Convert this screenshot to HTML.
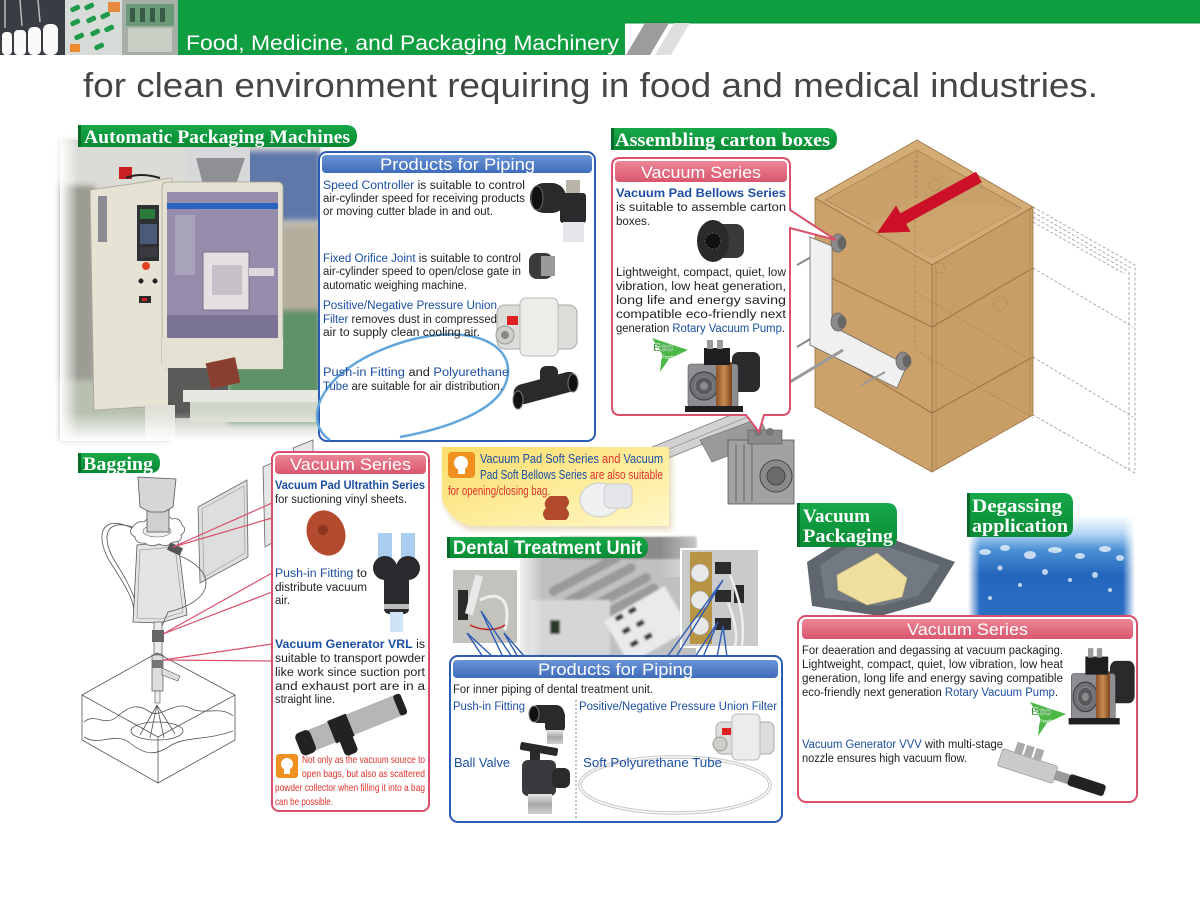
<!DOCTYPE html>
<html><head><meta charset="utf-8">
<style>
html,body{margin:0;padding:0;background:#fff;width:1200px;height:900px;overflow:hidden}
svg{display:block}
.t{font-family:"Liberation Sans",Arial,sans-serif;font-size:11.5px;fill:#222}
.bl{fill:#1b4ea3}
.bd{font-weight:bold}
.lb{font-family:"Liberation Serif",serif;font-weight:bold;fill:#fff;font-size:19px}
.hd{font-family:"Liberation Sans",Arial,sans-serif;font-size:17px;fill:#fff}
.hw{font-family:"Liberation Sans Narrow","Liberation Sans",sans-serif;font-size:12.5px}
.rd{fill:#e0302a}
.ln{fill:none;stroke:#555;stroke-width:0.8}
</style></head><body>
<svg width="1200" height="900" viewBox="0 0 1200 900" xmlns="http://www.w3.org/2000/svg">
<defs>
 <filter id="b3" x="-10%" y="-10%" width="120%" height="120%"><feGaussianBlur stdDeviation="3"/></filter>
 <filter id="b1"><feGaussianBlur stdDeviation="1"/></filter>
 <linearGradient id="hB" x1="0" y1="0" x2="0" y2="1"><stop offset="0" stop-color="#6a94d6"/><stop offset="1" stop-color="#3f6cbc"/></linearGradient>
 <linearGradient id="hR" x1="0" y1="0" x2="0" y2="1"><stop offset="0" stop-color="#ec8696"/><stop offset="1" stop-color="#d9566e"/></linearGradient>
 <linearGradient id="gL" x1="0" y1="0" x2="0" y2="1"><stop offset="0" stop-color="#16a848"/><stop offset="1" stop-color="#078a34"/></linearGradient>
 <linearGradient id="yel" x1="0" y1="0" x2="1" y2="1"><stop offset="0" stop-color="#fcdc6a"/><stop offset="0.6" stop-color="#fdeea0"/><stop offset="1" stop-color="#fff6c8"/></linearGradient>
 <linearGradient id="wat" x1="0" y1="0" x2="0" y2="1"><stop offset="0" stop-color="#ffffff"/><stop offset="0.18" stop-color="#b6d8f4"/><stop offset="0.35" stop-color="#4a90d6"/><stop offset="0.6" stop-color="#2466bc"/><stop offset="1" stop-color="#2c6ec4"/></linearGradient>
 <linearGradient id="fR" x1="0" y1="0" x2="1" y2="0"><stop offset="0" stop-color="#fff" stop-opacity="1"/><stop offset="1" stop-color="#fff" stop-opacity="0"/></linearGradient>
 <linearGradient id="fLf" x1="1" y1="0" x2="0" y2="0"><stop offset="0" stop-color="#fff" stop-opacity="1"/><stop offset="1" stop-color="#fff" stop-opacity="0"/></linearGradient>
 <linearGradient id="fD" x1="0" y1="0" x2="0" y2="1"><stop offset="0" stop-color="#fff" stop-opacity="0"/><stop offset="1" stop-color="#fff" stop-opacity="1"/></linearGradient>
 <linearGradient id="cop" x1="0" y1="0" x2="1" y2="0"><stop offset="0" stop-color="#8a5028"/><stop offset="0.5" stop-color="#c88a50"/><stop offset="1" stop-color="#7a4420"/></linearGradient>
 <linearGradient id="met" x1="0" y1="0" x2="0" y2="1"><stop offset="0" stop-color="#e8e8e8"/><stop offset="0.5" stop-color="#a8a8a8"/><stop offset="1" stop-color="#d0d0d0"/></linearGradient>
 <g id="pump">
  <rect x="50" y="14" width="28" height="40" rx="7" fill="#2a2a2c"/>
  <rect x="6" y="26" width="50" height="44" rx="3" fill="#8c8e92" stroke="#555" stroke-width="0.6"/>
  <circle cx="22" cy="48" r="14" fill="#6e7074" stroke="#3a3a3a"/>
  <circle cx="22" cy="48" r="9" fill="#58595c" stroke="#888"/>
  <circle cx="22" cy="48" r="4" fill="#8a8a8a"/>
  <rect x="34" y="24" width="16" height="48" fill="url(#cop)"/>
  <rect x="22" y="10" width="26" height="17" fill="#1e1e20"/>
  <rect x="25" y="2" width="6" height="9" fill="#9a9a9a"/><rect x="35" y="2" width="6" height="9" fill="#9a9a9a"/>
  <rect x="3" y="68" width="58" height="6" fill="#1e1e20"/>
 </g>
 <g id="eco">
  <polygon points="0,2 36,14 17,23 8,36 10,18" fill="#4cb848"/>
  <text x="1" y="15" font-family="Liberation Sans,sans-serif" font-size="11" font-weight="bold" fill="#2c8a2c" stroke="#fff" stroke-width="0.4">Eco</text>
  <text x="9" y="23" font-family="Liberation Sans,sans-serif" font-size="5.5" fill="#fff">Product</text>
 </g>
</defs>

<!-- ===== TOP BANNER ===== -->
<rect x="178" y="0" width="1022" height="23" fill="#0e9e40"/>
<rect x="178" y="22" width="1022" height="1.5" fill="#079236"/>
<rect x="178" y="0" width="447" height="55" fill="#0e9e40"/>
<polygon points="626,55 645,23 669,23 650,55" fill="#9c9c9c"/>
<polygon points="655,55 674,23 690,23 671,55" fill="#dedede"/>
<text x="186" y="50" font-family="Liberation Sans,sans-serif" font-size="21" fill="#fff" textLength="433" lengthAdjust="spacingAndGlyphs">Food, Medicine, and Packaging Machinery</text>
<rect x="0" y="0" width="65" height="55" fill="#3a3c44"/>
<g fill="#fafafa"><rect x="2" y="32" width="10" height="23" rx="4"/><rect x="14" y="30" width="12" height="25" rx="4"/><rect x="28" y="27" width="13" height="28" rx="5"/><rect x="43" y="24" width="15" height="31" rx="6"/></g>
<g stroke="#bbb" stroke-width="1.5"><line x1="5" y1="0" x2="5" y2="28"/><line x1="20" y1="0" x2="22" y2="26"/><line x1="38" y1="0" x2="40" y2="22"/></g>
<rect x="65" y="0" width="57" height="55" fill="#d8dcd8"/>
<g fill="#1f9a4a"><rect x="70" y="6" width="10" height="5" rx="2" transform="rotate(-25 75 8)"/><rect x="84" y="4" width="10" height="5" rx="2" transform="rotate(-25 89 6)"/><rect x="70" y="20" width="10" height="5" rx="2" transform="rotate(-25 75 22)"/><rect x="86" y="17" width="10" height="5" rx="2" transform="rotate(-25 91 19)"/><rect x="100" y="13" width="10" height="5" rx="2" transform="rotate(-25 105 15)"/><rect x="74" y="34" width="10" height="5" rx="2" transform="rotate(-25 79 36)"/><rect x="90" y="30" width="10" height="5" rx="2" transform="rotate(-25 95 32)"/><rect x="104" y="26" width="10" height="5" rx="2" transform="rotate(-25 109 28)"/><rect x="94" y="44" width="10" height="5" rx="2" transform="rotate(-25 99 46)"/></g>
<rect x="108" y="2" width="12" height="10" fill="#e88a40"/><rect x="70" y="44" width="10" height="8" fill="#f08a30"/>
<rect x="122" y="0" width="56" height="55" fill="#a6b0a8"/>
<rect x="126" y="4" width="48" height="22" fill="#6a9a78"/>
<rect x="128" y="28" width="44" height="24" fill="#c8cec4"/>
<g fill="#3a5a48"><rect x="130" y="8" width="5" height="14"/><rect x="140" y="8" width="5" height="14"/><rect x="150" y="8" width="5" height="14"/><rect x="160" y="8" width="5" height="14"/></g>

<text x="83" y="97" font-family="Liberation Sans,sans-serif" font-size="34" fill="#454545" textLength="1015" lengthAdjust="spacingAndGlyphs">for clean environment requiring in food and medical industries.</text>

<!-- ===== AUTOMATIC PACKAGING MACHINES PHOTO ===== -->
<g>
 <rect x="60" y="140" width="260" height="300" fill="#c4c4bc"/>
 <g filter="url(#b3)">
  <rect x="60" y="140" width="260" height="50" fill="#dcdcd6"/>
  <rect x="242" y="150" width="78" height="70" fill="#5f78aa"/>
  <rect x="282" y="225" width="38" height="90" fill="#b6ae9c"/>
  <rect x="228" y="310" width="92" height="115" fill="#5f9268"/>
  <rect x="60" y="185" width="35" height="240" fill="#9c9c94"/>
  <rect x="60" y="380" width="110" height="60" fill="#b8c0b0"/>
 </g>
 <polygon points="90,190 172,178 174,405 94,410" fill="#e6e3d5" stroke="#aaa596" stroke-width="0.8"/>
 <rect x="98" y="196" width="9" height="46" fill="#8a8a92"/>
 <rect x="137" y="205" width="22" height="56" fill="#2e3034"/>
 <rect x="140" y="209" width="15" height="10" fill="#2a7a3a"/>
 <rect x="140" y="224" width="17" height="20" fill="#4a5a78"/>
 <rect x="140" y="247" width="17" height="10" fill="#3a3a40"/>
 <circle cx="146" cy="266" r="4" fill="#e04020"/>
 <circle cx="141" cy="281" r="2.5" fill="#222"/><circle cx="155" cy="281" r="2.5" fill="#222"/>
 <rect x="139" y="296" width="12" height="7" fill="#2a2a2a"/><rect x="142" y="298" width="5" height="3" fill="#d02020"/>
 <rect x="119" y="167" width="13" height="12" fill="#c82020"/>
 <path d="M126,178 Q140,172 160,178" stroke="#222" stroke-width="2" fill="none"/>
 <rect x="186" y="140" width="64" height="45" fill="#d6d8da"/>
 <polygon points="196,158 245,158 232,196 206,196" fill="#8e9094"/>
 <rect x="162" y="182" width="121" height="187" rx="5" fill="#e4e1d2" stroke="#a8a494" stroke-width="0.8"/>
 <rect x="167" y="192" width="111" height="146" fill="#968dad"/>
 <rect x="167" y="203" width="111" height="6" fill="#2a62c2"/>
 <rect x="175" y="215" width="20" height="60" fill="#a8a4bc"/>
 <rect x="203" y="252" width="46" height="58" fill="#e6e0e2" stroke="#7a7088"/>
 <rect x="212" y="265" width="30" height="30" fill="#c8c0c8"/>
 <rect x="249" y="268" width="25" height="8" fill="#dcd8dc"/>
 <rect x="167" y="315" width="111" height="23" fill="#7c7494"/>
 <rect x="162" y="338" width="121" height="31" fill="#e4e1d2"/>
 <rect x="168" y="368" width="60" height="50" fill="#5a5a58"/>
 <rect x="208" y="360" width="30" height="26" fill="#8a4030" transform="rotate(-12 223 373)"/>
 <rect x="183" y="390" width="137" height="12" fill="#e8e8e2"/>
 <rect x="190" y="402" width="130" height="20" fill="#d0d6c8"/>
 <rect x="145" y="405" width="30" height="35" fill="#e0e0d8"/>
 <rect x="60" y="140" width="18" height="300" fill="url(#fR)"/>
 <rect x="60" y="412" width="260" height="29" fill="url(#fD)"/>
</g>
<path d="M78,125 H346 Q357,125 357,136 Q357,147 346,147 H78 Z" fill="url(#gL)"/>
<rect x="78" y="125" width="3" height="22" fill="#066a2a"/>
<text class="lb" x="84" y="143" textLength="266" lengthAdjust="spacingAndGlyphs">Automatic Packaging Machines</text>

<!-- ===== PRODUCTS FOR PIPING 1 ===== -->
<rect x="319" y="152" width="276" height="289" rx="8" fill="#fff" stroke="#2c5cb4" stroke-width="2"/>
<rect x="322" y="155" width="270" height="18" rx="4" fill="url(#hB)"/>
<text class="hd" x="380" y="170" textLength="155" lengthAdjust="spacingAndGlyphs">Products for Piping</text>
<path d="M330,440 C300,420 320,365 410,340 C480,322 520,350 505,385 C495,410 450,428 400,437" fill="none" stroke="#62a6dc" stroke-width="2.5"/>
<g class="t">
<text x="323" y="189" textLength="202" lengthAdjust="spacingAndGlyphs"><tspan class="bl">Speed Controller</tspan> is suitable to control</text>
<text x="323" y="202" textLength="202" lengthAdjust="spacingAndGlyphs">air-cylinder speed for receiving products</text>
<text x="323" y="215" textLength="170" lengthAdjust="spacingAndGlyphs">or moving cutter blade in and out.</text>
<text x="323" y="262" textLength="198" lengthAdjust="spacingAndGlyphs"><tspan class="bl">Fixed Orifice Joint</tspan> is suitable to control</text>
<text x="323" y="275" textLength="198" lengthAdjust="spacingAndGlyphs">air-cylinder speed to open/close gate in</text>
<text x="323" y="289" textLength="144" lengthAdjust="spacingAndGlyphs">automatic weighing machine.</text>
<text x="323" y="309" textLength="174" lengthAdjust="spacingAndGlyphs" class="bl">Positive/Negative Pressure Union</text>
<text x="323" y="323" textLength="174" lengthAdjust="spacingAndGlyphs"><tspan class="bl">Filter</tspan> removes dust in compressed</text>
<text x="323" y="336" textLength="157" lengthAdjust="spacingAndGlyphs">air to supply clean cooling air.</text>
<text x="323" y="376" textLength="186" lengthAdjust="spacingAndGlyphs"><tspan class="bl">Push-in Fitting</tspan> and <tspan class="bl">Polyurethane</tspan></text>
<text x="323" y="390" textLength="180" lengthAdjust="spacingAndGlyphs"><tspan class="bl">Tube</tspan> are suitable for air distribution.</text>
</g>
<rect x="530" y="183" width="36" height="30" rx="14" fill="#2a2a2c"/>
<ellipse cx="537" cy="198" rx="6" ry="12" fill="#111" stroke="#666"/>
<rect x="566" y="180" width="14" height="14" fill="#b8b4a8"/>
<rect x="560" y="193" width="26" height="30" rx="3" fill="#2a2a2c"/>
<rect x="563" y="222" width="21" height="20" fill="#e6e6ea"/>
<rect x="529" y="253" width="24" height="26" rx="8" fill="#3a3a3c"/><rect x="541" y="256" width="14" height="20" fill="#9a9a9a"/>
<rect x="497" y="305" width="80" height="44" rx="8" fill="#dcdcd8" stroke="#aaa"/>
<rect x="520" y="298" width="38" height="58" rx="6" fill="#ecece8" stroke="#bbb"/>
<circle cx="505" cy="335" r="9" fill="#cfcfca" stroke="#999"/><circle cx="505" cy="335" r="4" fill="#888"/>
<rect x="507" y="316" width="11" height="9" fill="#e02020"/>
<rect x="513" y="378" width="66" height="20" rx="9" fill="#2a2a2c" transform="rotate(-15 546 388)"/>
<rect x="540" y="366" width="18" height="26" rx="6" fill="#2a2a2c"/>
<ellipse cx="518" cy="400" rx="5" ry="9" fill="#111" stroke="#777"/>
<ellipse cx="573" cy="383" rx="5" ry="9" fill="#111" stroke="#777"/>

<!-- ===== CARDBOARD BOX ===== -->
<g stroke-linejoin="round">
 <g fill="none" stroke="#999" stroke-width="0.8" stroke-dasharray="3,2">
  <polyline points="1033,207 1135,265 1135,473 1033,415"/>
  <polyline points="1033,212 1131,268"/><polyline points="1033,217 1128,271"/><polyline points="1033,222 1125,274"/>
  <line x1="1033" y1="268" x2="1133" y2="327"/><line x1="1033" y1="357" x2="1133" y2="417"/>
  <line x1="1129" y1="272" x2="1129" y2="470"/>
 </g>
 <polygon points="815,198 917,140 1033,207 932,265" fill="#d4ac76" stroke="#9a7444" stroke-width="0.8"/>
 <polygon points="825,200 917,150 1021,208 932,258" fill="#c8a06a" stroke="#a07a48" stroke-width="0.6"/>
 <polygon points="855,232 917,198 1021,208 932,258" fill="#cba46e"/>
 <line x1="917" y1="150" x2="917" y2="198" stroke="#a07a48" stroke-width="0.6" stroke-dasharray="3,2"/>
 <polygon points="815,198 932,265 932,472 815,407" fill="#cda26a" stroke="#9a7444" stroke-width="0.8"/>
 <polygon points="932,265 1033,207 1033,415 932,472" fill="#c99e66" stroke="#9a7444" stroke-width="0.8"/>
 <line x1="815" y1="270" x2="932" y2="327" stroke="#8a6a40" stroke-width="0.8"/>
 <line x1="815" y1="343" x2="932" y2="413" stroke="#8a6a40" stroke-width="0.8"/>
 <line x1="932" y1="327" x2="1033" y2="268" stroke="#8a6a40" stroke-width="0.8"/>
 <line x1="932" y1="413" x2="1033" y2="357" stroke="#8a6a40" stroke-width="0.8"/>
 <line x1="936" y1="268" x2="936" y2="470" stroke="#a88050" stroke-width="0.6"/>
 <line x1="1030" y1="209" x2="1030" y2="413" stroke="#a88050" stroke-width="0.6"/>
 <g fill="none" stroke="#a88050" stroke-width="0.6" stroke-dasharray="3,2">
  <line x1="915" y1="160" x2="915" y2="350"/><line x1="915" y1="350" x2="1033" y2="418"/><line x1="915" y1="292" x2="1030" y2="360"/>
  <circle cx="935" cy="185" r="6"/><circle cx="940" cy="268" r="5"/><circle cx="1000" cy="303" r="7"/>
 </g>
</g>
<polygon points="877,233 910.5,231.8 906.2,223.9 981.9,182.3 976.1,171.7 900.4,213.3 896.1,205.4" fill="#cc1028"/>
<g stroke="#666" stroke-width="0.8">
 <line x1="797" y1="265" x2="820" y2="252" stroke="#888" stroke-width="2"/>
 <line x1="797" y1="347" x2="820" y2="333" stroke="#888" stroke-width="2"/>
 <polygon points="810,237 832,246 832,326 907,365 897,388 810,345" fill="#f0f0f0"/>
 <line x1="780" y1="388" x2="843" y2="350" stroke="#999" stroke-width="3"/>
 <line x1="862" y1="385" x2="885" y2="372" stroke="#999" stroke-width="2"/>
 <ellipse cx="838" cy="243" rx="7" ry="9" fill="#8a8a8a"/><ellipse cx="842" cy="243" rx="4" ry="6" fill="#666"/>
 <ellipse cx="838" cy="322" rx="7" ry="9" fill="#8a8a8a"/><ellipse cx="842" cy="322" rx="4" ry="6" fill="#666"/>
 <ellipse cx="903" cy="361" rx="7" ry="9" fill="#8a8a8a"/><ellipse cx="907" cy="361" rx="4" ry="6" fill="#666"/>
</g>
<polygon points="640,452 748,408 752,424 644,468" fill="#d2d2d2" stroke="#777" stroke-width="0.8"/>
<line x1="642" y1="460" x2="750" y2="416" stroke="#999" stroke-width="0.8"/>
<polygon points="700,440 760,418 770,440 712,462" fill="#9a9a9a" stroke="#666" stroke-width="0.6"/>
<g transform="translate(728,430)">
 <rect x="0" y="10" width="66" height="64" fill="#a2a2a4" stroke="#555" stroke-width="0.8"/>
 <rect x="20" y="0" width="34" height="14" fill="#8a8a8c" stroke="#555" stroke-width="0.6"/>
 <circle cx="30" cy="2" r="4" fill="#777"/><circle cx="42" cy="2" r="4" fill="#777"/>
 <circle cx="48" cy="46" r="16" fill="#8a8a8c" stroke="#444"/><circle cx="48" cy="46" r="9" fill="#6a6a6c" stroke="#444"/>
 <line x1="8" y1="14" x2="8" y2="72" stroke="#666"/><line x1="16" y1="14" x2="16" y2="72" stroke="#666"/><line x1="24" y1="14" x2="24" y2="72" stroke="#666"/>
</g>

<path d="M611,128 H826 Q837,128 837,139 Q837,150 826,150 H611 Z" fill="url(#gL)"/>
<rect x="611" y="128" width="3" height="22" fill="#066a2a"/>
<text class="lb" x="615" y="146" textLength="215" lengthAdjust="spacingAndGlyphs">Assembling carton boxes</text>

<!-- ===== VACUUM SERIES (carton) ===== -->
<path d="M620,158 H782 Q790,158 790,166 V210 L836,240 L790,228 V407 Q790,415 782,415 H764 L759,432 L746,415 H620 Q612,415 612,407 V166 Q612,158 620,158 Z" fill="#fff" stroke="#d9506c" stroke-width="2"/>
<rect x="615" y="161" width="172" height="21" rx="4" fill="url(#hR)"/>
<text class="hd" x="641" y="178" textLength="120" lengthAdjust="spacingAndGlyphs">Vacuum Series</text>
<g class="t">
<text x="616" y="197" class="bl bd" textLength="170" lengthAdjust="spacingAndGlyphs">Vacuum Pad Bellows Series</text>
<text x="616" y="211" textLength="170" lengthAdjust="spacingAndGlyphs">is suitable to assemble carton</text>
<text x="616" y="225" textLength="34" lengthAdjust="spacingAndGlyphs">boxes.</text>
<text x="616" y="276" textLength="170" lengthAdjust="spacingAndGlyphs">Lightweight, compact, quiet, low</text>
<text x="616" y="290" textLength="170" lengthAdjust="spacingAndGlyphs">vibration, low heat generation,</text>
<text x="616" y="304" textLength="170" lengthAdjust="spacingAndGlyphs">long life and energy saving</text>
<text x="616" y="318" textLength="170" lengthAdjust="spacingAndGlyphs">compatible eco-friendly next</text>
<text x="616" y="332" textLength="169" lengthAdjust="spacingAndGlyphs">generation <tspan class="bl">Rotary Vacuum Pump</tspan>.</text>
</g>
<rect x="712" y="224" width="32" height="34" rx="8" fill="#3a3a3c"/>
<ellipse cx="713" cy="241" rx="16" ry="21" fill="#2a2a2c"/>
<circle cx="713" cy="241" r="8" fill="#111" stroke="#555" stroke-dasharray="2,2"/>
<use href="#eco" transform="translate(652,336)"/>
<use href="#pump" transform="translate(682,338)"/>

<!-- ===== BAGGING ===== -->
<path d="M78,453 H150 Q160,453 160,463 Q160,473 150,473 H78 Z" fill="url(#gL)"/>
<rect x="78" y="453" width="3" height="20" fill="#066a2a"/>
<text class="lb" x="83" y="470" textLength="70" lengthAdjust="spacingAndGlyphs">Bagging</text>
<polygon points="293,448 313,440 313,452 295,458" fill="#e6e6e6" stroke="#666" stroke-width="0.8"/>
<polygon points="263,467 272,463 272,543 265,547" fill="#e6e6e6" stroke="#666" stroke-width="0.8"/>
<polygon points="198,507 247,480 248,557 200,583" fill="#dedede" stroke="#666" stroke-width="0.8"/>
<polygon points="202,509 244,486 245,553 204,577" fill="none" stroke="#999" stroke-width="0.6"/>
<path class="ln" d="M132,528 C98,512 95,540 112,565 C125,585 134,600 134,612"/>
<path class="ln" d="M135,528 C103,516 101,540 116,563 C128,582 137,600 137,612"/>
<polygon points="137,545 178,541 187,615 160,623 133,622" fill="#e4e4e4" stroke="#555" stroke-width="0.8"/>
<polygon points="140,550 175,547 183,612 161,619 137,618" fill="none" stroke="#888" stroke-width="0.6"/>
<path d="M132,528 q5,-8 12,-6 q6,-7 14,-3 q8,-6 14,0 q8,-2 10,6 q6,5 -1,10 q2,7 -8,7 q-6,6 -14,2 q-8,4 -14,-1 q-9,1 -10,-6 q-7,-4 -3,-9 Z" fill="#fff" stroke="#555" stroke-width="0.8"/>
<ellipse cx="157" cy="531" rx="14" ry="6" fill="#eee" stroke="#666" stroke-width="0.6"/>
<rect x="147" y="510" width="22" height="22" fill="#d0d0d0" stroke="#555" stroke-width="0.8"/>
<polygon points="138,477 176,479 173,507 164,512 150,512 140,507" fill="#d6d6d6" stroke="#555" stroke-width="0.8"/>
<path class="ln" d="M180,556 C215,570 218,600 168,612 L162,626" stroke-width="1.6"/>
<rect x="168" y="545" width="14" height="8" fill="#555" transform="rotate(25 175 549)"/>
<rect x="154" y="622" width="8" height="32" fill="#ececec" stroke="#555" stroke-width="0.7"/>
<rect x="152" y="630" width="12" height="12" fill="#666"/>
<rect x="152" y="655" width="11" height="36" fill="#ddd" stroke="#555" stroke-width="0.7"/>
<rect x="152" y="660" width="11" height="8" fill="#777"/>
<polygon points="162,668 180,676 178,681 162,675" fill="#ddd" stroke="#555" stroke-width="0.6"/>
<rect x="155" y="691" width="5" height="12" fill="#eee" stroke="#555" stroke-width="0.6"/>
<path class="ln" d="M82,695 L157,653 L235,695 L158,737 Z"/>
<path class="ln" d="M82,695 V740 L158,783 L235,740 V695 M158,737 V783"/>
<path class="ln" d="M84,722 C95,712 105,728 118,716 S140,705 150,712 S175,700 190,708 S220,705 233,716"/>
<path class="ln" d="M84,737 C100,747 115,731 130,743 S155,756 170,746 S205,741 233,731"/>
<path class="ln" d="M157,705 L140,735 M157,705 L150,738 M157,705 L164,738 M157,705 L175,734"/>
<ellipse class="ln" cx="157" cy="731" rx="26" ry="9"/>
<g stroke="#d9506c" stroke-width="1.2" fill="none">
<polyline points="272,503 173,547 272,518"/>
<polyline points="272,573 163,634 272,592"/>
<polyline points="272,644 163,660 272,661"/>
</g>
<rect x="272" y="452" width="157" height="359" rx="7" fill="#fff" stroke="#d9506c" stroke-width="2"/>
<rect x="275" y="455" width="151" height="19" rx="4" fill="url(#hR)"/>
<text class="hd" x="290" y="470" textLength="121" lengthAdjust="spacingAndGlyphs">Vacuum Series</text>
<g class="t">
<text x="275" y="489" class="bl bd" textLength="150" lengthAdjust="spacingAndGlyphs">Vacuum Pad Ultrathin Series</text>
<text x="275" y="503" textLength="132" lengthAdjust="spacingAndGlyphs">for suctioning vinyl sheets.</text>
<text x="275" y="577" textLength="92" lengthAdjust="spacingAndGlyphs"><tspan class="bl">Push-in Fitting</tspan> to</text>
<text x="275" y="591" textLength="92" lengthAdjust="spacingAndGlyphs">distribute vacuum</text>
<text x="275" y="604" textLength="15" lengthAdjust="spacingAndGlyphs">air.</text>
<text x="275" y="648" textLength="150" lengthAdjust="spacingAndGlyphs"><tspan class="bl bd">Vacuum Generator VRL</tspan> is</text>
<text x="275" y="662" textLength="150" lengthAdjust="spacingAndGlyphs">suitable to transport powder</text>
<text x="275" y="676" textLength="150" lengthAdjust="spacingAndGlyphs">like work since suction port</text>
<text x="275" y="690" textLength="150" lengthAdjust="spacingAndGlyphs">and exhaust port are in a</text>
<text x="275" y="703" textLength="60" lengthAdjust="spacingAndGlyphs">straight line.</text>
</g>
<ellipse cx="326" cy="533" rx="19" ry="23" fill="#b44a2e" transform="rotate(-20 326 533)"/>
<circle cx="323" cy="530" r="5" fill="#8a3420"/>
<rect x="378" y="533" width="14" height="30" fill="#a8cdee"/><rect x="401" y="533" width="14" height="30" fill="#a8cdee"/>
<circle cx="385" cy="568" r="12" fill="#2a2a2e"/><circle cx="408" cy="568" r="12" fill="#2a2a2e"/>
<rect x="384" y="570" width="25" height="44" rx="5" fill="#2a2a2e"/>
<rect x="384" y="604" width="25" height="5" fill="#bbb"/>
<rect x="390" y="612" width="13" height="20" fill="#cfe3f6"/>
<g transform="translate(352,724) rotate(-22)">
 <rect x="-58" y="-11" width="112" height="22" rx="4" fill="#b6b6b6"/>
 <rect x="-58" y="-12" width="16" height="24" rx="5" fill="#222"/>
 <rect x="-22" y="-12" width="20" height="24" fill="#222"/>
 <rect x="-18" y="8" width="14" height="20" rx="4" fill="#222"/>
 <rect x="48" y="-11" width="8" height="22" rx="3" fill="#222"/>
</g>
<rect x="276" y="754" width="22" height="24" rx="3" fill="#f0901e"/>
<circle cx="287" cy="764" r="6" fill="#fff"/><rect x="284" y="769" width="6" height="5" fill="#fff"/>
<g class="hw rd" style="font-size:10.5px">
<text x="302" y="763" textLength="123" lengthAdjust="spacingAndGlyphs">Not only as the vacuum source to</text>
<text x="302" y="777" textLength="123" lengthAdjust="spacingAndGlyphs">open bags, but also as scattered</text>
<text x="275" y="791" textLength="150" lengthAdjust="spacingAndGlyphs">powder collector when filling it into a bag</text>
<text x="275" y="805" textLength="58" lengthAdjust="spacingAndGlyphs">can be possible.</text>
</g>

<!-- ===== YELLOW NOTE ===== -->
<path d="M444,452 H672 V530 H470 Q452,524 444,505 Z" fill="#c8b070" opacity="0.45" filter="url(#b3)"/>
<path d="M442,447 H669 V526 H470 Q450,520 442,500 Z" fill="url(#yel)"/>
<rect x="448" y="452" width="27" height="26" rx="4" fill="#f0901e"/>
<circle cx="461" cy="463" r="7" fill="#fff"/><rect x="458" y="469" width="7" height="5" fill="#fff"/>
<g class="hw">
<text x="480" y="463" textLength="183" lengthAdjust="spacingAndGlyphs"><tspan class="bl">Vacuum Pad Soft Series </tspan><tspan class="rd">and </tspan><tspan class="bl">Vacuum</tspan></text>
<text x="480" y="479" textLength="183" lengthAdjust="spacingAndGlyphs"><tspan class="bl">Pad Soft Bellows Series </tspan><tspan class="rd">are also suitable</tspan></text>
<text x="448" y="495" class="rd" textLength="102" lengthAdjust="spacingAndGlyphs">for opening/closing bag.</text>
</g>
<path d="M550,496 h16 q6,6 0,12 q6,6 0,12 h-20 q-6,-6 0,-12 q-4,-6 4,-12 Z" fill="#b04a2a"/>
<ellipse cx="600" cy="500" rx="20" ry="17" fill="#eef0f2" stroke="#ccc"/>
<rect x="604" y="484" width="28" height="24" rx="6" fill="#e4e6ea" stroke="#ccc"/>

<!-- ===== DENTAL ===== -->
<g>
 <rect x="520" y="537" width="176" height="118" fill="#c0c0c0"/>
 <g filter="url(#b1)">
  <rect x="560" y="537" width="136" height="22" fill="#8a8a8a"/>
  <g fill="#9a9a9a"><rect x="545" y="570" width="80" height="9" rx="4" transform="rotate(-28 585 575)"/><rect x="560" y="580" width="80" height="9" rx="4" transform="rotate(-28 600 585)"/><rect x="575" y="590" width="80" height="9" rx="4" transform="rotate(-28 615 595)"/><rect x="592" y="598" width="70" height="9" rx="4" transform="rotate(-28 627 603)"/></g>
  <rect x="530" y="600" width="80" height="55" fill="#d6d6d6"/>
  <rect x="612" y="600" width="70" height="50" fill="#eaeaea" transform="rotate(-30 647 625)"/>
  <g fill="#333"><rect x="615" y="615" width="8" height="5" transform="rotate(-30 619 617)"/><rect x="628" y="608" width="8" height="5" transform="rotate(-30 632 610)"/><rect x="622" y="628" width="8" height="5" transform="rotate(-30 626 630)"/><rect x="636" y="621" width="8" height="5" transform="rotate(-30 640 623)"/><rect x="630" y="641" width="8" height="5" transform="rotate(-30 634 643)"/><rect x="644" y="634" width="8" height="5" transform="rotate(-30 648 636)"/></g>
  <rect x="550" y="620" width="10" height="14" fill="#2a3a2a"/>
 </g>
 <rect x="520" y="537" width="22" height="120" fill="url(#fR)" opacity="0.8"/>
 <rect x="660" y="537" width="36" height="40" fill="url(#fLf)" opacity="0.5"/>
</g>
<rect x="451" y="568" width="68" height="77" fill="#fff"/>
<rect x="453" y="570" width="64" height="73" fill="#c4c2bc"/>
<rect x="458" y="590" width="10" height="30" fill="#2a2a2a"/>
<rect x="470" y="575" width="8" height="40" fill="#e8e8e8" transform="rotate(15 474 595)"/>
<path d="M480,600 C500,590 512,600 505,630" stroke="#eee" stroke-width="3" fill="none"/>
<path d="M470,625 C480,630 495,632 505,625" stroke="#c02020" stroke-width="1.5" fill="none"/>
<rect x="680" y="548" width="80" height="100" fill="#fff"/>
<rect x="682" y="550" width="76" height="96" fill="#c8cacc"/>
<rect x="690" y="552" width="22" height="92" fill="#b89444"/>
<g fill="#e8e8e8" stroke="#999" stroke-width="0.6"><circle cx="700" cy="573" r="9"/><circle cx="700" cy="600" r="9"/><circle cx="700" cy="626" r="9"/></g>
<g fill="#2a2a2c"><rect x="715" y="562" width="16" height="12"/><rect x="715" y="590" width="16" height="12"/><rect x="715" y="618" width="16" height="12"/><rect x="734" y="585" width="10" height="18"/></g>
<g stroke="#eee" stroke-width="2.5" fill="none"><path d="M730,575 C740,600 745,620 742,646"/><path d="M728,603 C735,620 738,635 735,646"/></g>
<g stroke="#2c5cb4" stroke-width="1.4" fill="none">
<polyline points="483,657 467,633 493,657"/>
<polyline points="503,657 481,611 512,657"/>
<polyline points="518,657 504,633 525,657"/>
<polyline points="667,657 723,580 676,657"/>
<polyline points="695,657 718,622 703,657"/>
<polyline points="717,657 723,626 727,657"/>
</g>
<path d="M447,537 H638 Q648,537 648,547 Q648,558 638,558 H447 Z" fill="url(#gL)"/>
<rect x="447" y="537" width="3" height="21" fill="#066a2a"/>
<text x="453" y="554" font-family="Liberation Sans,sans-serif" font-weight="bold" font-size="19" fill="#fff" textLength="189" lengthAdjust="spacingAndGlyphs">Dental Treatment Unit</text>

<rect x="450" y="656" width="332" height="166" rx="8" fill="#fff" stroke="#2c5cb4" stroke-width="2"/>
<rect x="453" y="660" width="325" height="18" rx="4" fill="url(#hB)"/>
<text class="hd" x="538" y="675" textLength="155" lengthAdjust="spacingAndGlyphs">Products for Piping</text>
<line x1="576" y1="700" x2="576" y2="818" stroke="#888" stroke-width="1" stroke-dasharray="2,2"/>
<ellipse cx="675" cy="785" rx="95" ry="28" fill="none" stroke="#c8c8c8" stroke-width="3.5"/>
<ellipse cx="675" cy="785" rx="95" ry="28" fill="none" stroke="#fafafa" stroke-width="1.5"/>
<g class="t">
<text x="453" y="693" textLength="200" lengthAdjust="spacingAndGlyphs">For inner piping of dental treatment unit.</text>
<text x="453" y="710" class="bl" textLength="72" lengthAdjust="spacingAndGlyphs">Push-in Fitting</text>
<text x="579" y="710" class="bl" textLength="198" lengthAdjust="spacingAndGlyphs">Positive/Negative Pressure Union Filter</text>
<text x="454" y="767" class="bl" style="font-size:12.5px" textLength="56" lengthAdjust="spacingAndGlyphs">Ball Valve</text>
<text x="583" y="767" class="bl" style="font-size:12.5px" textLength="139" lengthAdjust="spacingAndGlyphs">Soft Polyurethane Tube</text>
</g>
<rect x="530" y="705" width="34" height="18" rx="8" fill="#2a2a2c"/>
<rect x="545" y="710" width="20" height="22" rx="5" fill="#2a2a2c"/>
<rect x="547" y="730" width="16" height="14" fill="url(#met)"/>
<ellipse cx="534" cy="714" rx="5" ry="8" fill="#111" stroke="#777"/>
<rect x="520" y="745" width="38" height="8" rx="2" fill="#2a2a2c" transform="rotate(10 539 749)"/>
<rect x="530" y="750" width="10" height="10" fill="#2a2a2c"/>
<rect x="522" y="760" width="34" height="36" rx="6" fill="#3a3a3e"/>
<rect x="552" y="768" width="18" height="20" rx="6" fill="#2a2a2c"/>
<rect x="528" y="794" width="24" height="20" fill="url(#met)"/>
<rect x="716" y="722" width="58" height="32" rx="6" fill="#dddddb" stroke="#aaa"/>
<rect x="732" y="714" width="28" height="46" rx="5" fill="#ececea" stroke="#bbb"/>
<circle cx="720" cy="744" r="7" fill="#cfcfca" stroke="#999"/>
<rect x="722" y="728" width="9" height="7" fill="#e02020"/>

<!-- ===== VACUUM PACKAGING & DEGASSING ===== -->
<polygon points="807,562 862,528 955,562 930,602 880,616 812,606" fill="#5f666e"/>
<polygon points="820,565 862,538 940,565 918,596 880,606 825,598" fill="#7a828a" opacity="0.7"/>
<polygon points="837,575 877,553 907,578 902,597 867,605 838,590" fill="#efdf9e" stroke="#c8b878" stroke-width="0.6"/>
<path d="M797,503 H887 Q897,503 897,513 V537 Q897,547 887,547 H797 Z" fill="url(#gL)"/>
<rect x="797" y="503" width="3" height="44" fill="#066a2a"/>
<text class="lb" x="803" y="522" textLength="67" lengthAdjust="spacingAndGlyphs">Vacuum</text>
<text class="lb" x="803" y="542" textLength="90" lengthAdjust="spacingAndGlyphs">Packaging</text>

<rect x="968" y="515" width="167" height="100" fill="url(#wat)"/>
<g fill="#fff" opacity="0.7">
<ellipse cx="985" cy="552" rx="6" ry="3"/><ellipse cx="1005" cy="548" rx="5" ry="3"/><ellipse cx="1030" cy="555" rx="6" ry="4"/><ellipse cx="1055" cy="550" rx="7" ry="3"/><ellipse cx="1080" cy="556" rx="5" ry="3"/><ellipse cx="1105" cy="549" rx="6" ry="3"/><ellipse cx="1120" cy="558" rx="4" ry="3"/>
<circle cx="1000" cy="568" r="2.5"/><circle cx="1045" cy="572" r="3"/><circle cx="1070" cy="580" r="2"/><circle cx="1095" cy="575" r="3"/><circle cx="1020" cy="585" r="2"/><circle cx="1110" cy="590" r="2"/><circle cx="990" cy="598" r="2"/>
</g>
<rect x="968" y="515" width="12" height="100" fill="url(#fR)"/>
<rect x="1123" y="515" width="12" height="100" fill="url(#fLf)"/>
<path d="M967,493 H1063 Q1073,493 1073,503 V527 Q1073,537 1063,537 H967 Z" fill="url(#gL)"/>
<rect x="967" y="493" width="3" height="44" fill="#066a2a"/>
<text class="lb" x="972" y="512" textLength="90" lengthAdjust="spacingAndGlyphs">Degassing</text>
<text class="lb" x="972" y="532" textLength="96" lengthAdjust="spacingAndGlyphs">application</text>

<!-- ===== VACUUM SERIES 3 ===== -->
<rect x="798" y="616" width="339" height="186" rx="8" fill="#fff" stroke="#d9506c" stroke-width="2"/>
<rect x="802" y="619" width="331" height="20" rx="4" fill="url(#hR)"/>
<text class="hd" x="907" y="635" textLength="121" lengthAdjust="spacingAndGlyphs">Vacuum Series</text>
<g class="t">
<text x="802" y="654" textLength="261" lengthAdjust="spacingAndGlyphs">For deaeration and degassing at vacuum packaging.</text>
<text x="802" y="668" textLength="261" lengthAdjust="spacingAndGlyphs">Lightweight, compact, quiet, low vibration, low heat</text>
<text x="802" y="682" textLength="261" lengthAdjust="spacingAndGlyphs">generation, long life and energy saving compatible</text>
<text x="802" y="696" textLength="256" lengthAdjust="spacingAndGlyphs">eco-friendly next generation <tspan class="bl">Rotary Vacuum Pump</tspan>.</text>
<text x="802" y="748" textLength="201" lengthAdjust="spacingAndGlyphs"><tspan class="bl">Vacuum Generator VVV</tspan> with multi-stage</text>
<text x="802" y="762" textLength="165" lengthAdjust="spacingAndGlyphs">nozzle ensures high vacuum flow.</text>
</g>
<use href="#pump" transform="translate(1066,646) scale(0.88,1.06)"/>
<use href="#eco" transform="translate(1030,700)"/>
<g transform="translate(1040,770) rotate(18)">
 <rect x="-42" y="-9" width="58" height="18" rx="2" fill="#c8cacc" stroke="#888" stroke-width="0.6"/>
 <rect x="-30" y="-20" width="8" height="12" fill="#aaa"/><rect x="-20" y="-20" width="8" height="12" fill="#aaa"/><rect x="-10" y="-20" width="8" height="12" fill="#aaa"/>
 <rect x="16" y="-5" width="14" height="10" fill="#999"/>
 <rect x="30" y="-6" width="38" height="12" rx="3" fill="#222"/>
</g>
</svg>
</body></html>
